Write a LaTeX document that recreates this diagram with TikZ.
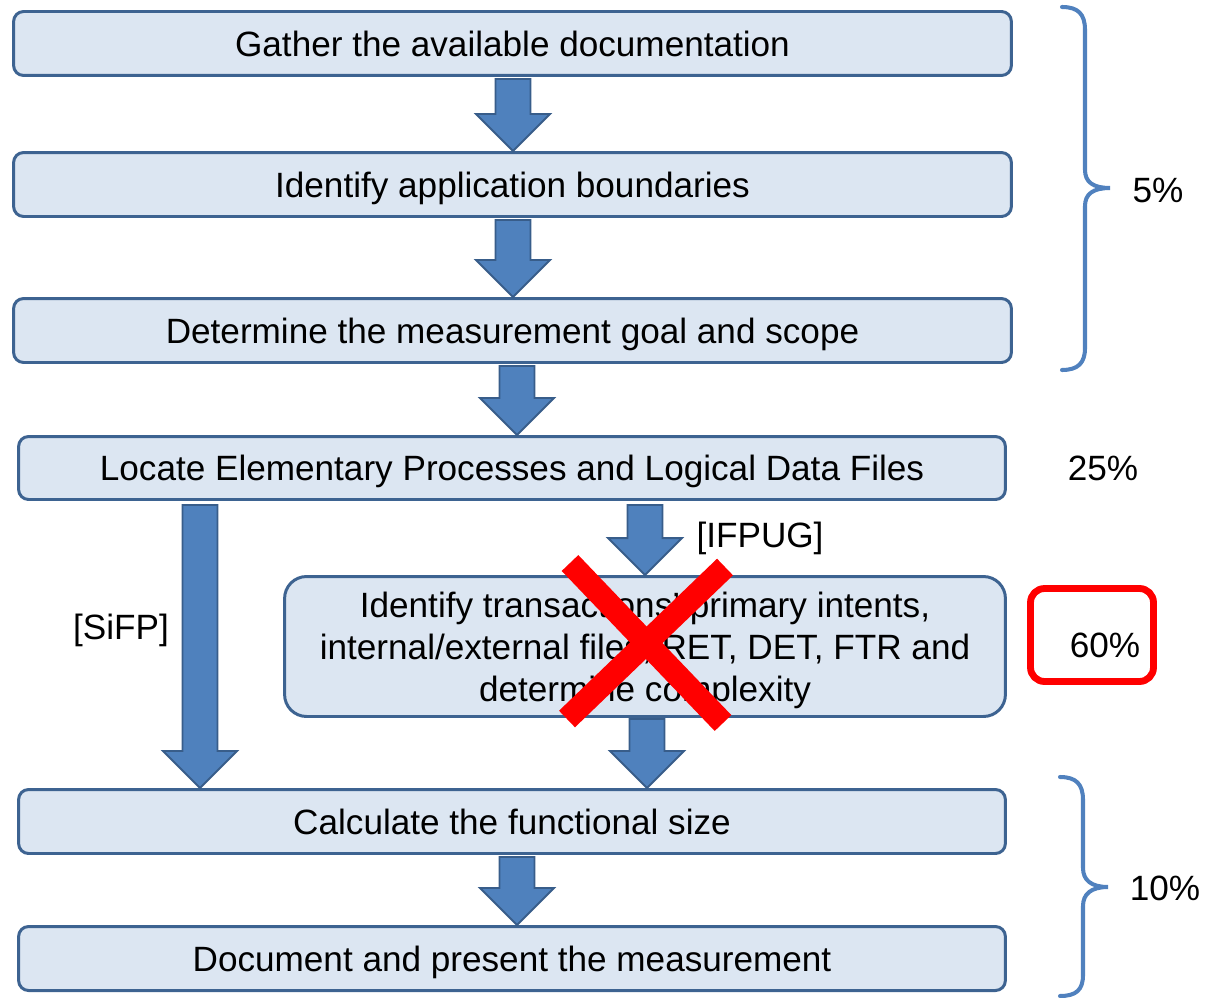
\documentclass[tikz,border=0pt]{standalone}
\usepackage{fontspec}
\setmainfont{Liberation Sans}
\usetikzlibrary{calc}

\definecolor{boxfill}{HTML}{DCE6F2}
\definecolor{boxline}{HTML}{3D6391}
\definecolor{arrowfill}{HTML}{4F81BD}
\definecolor{arrowline}{HTML}{385D8A}
\definecolor{bracecol}{HTML}{5081BE}
\definecolor{markred}{HTML}{FF0000}

\tikzset{
  stepbox/.style={draw=boxline, fill=boxfill, line width=1.7pt,
    rounded corners=0.2cm, inner sep=0pt, align=center,
    font=\fontsize{20pt}{24pt}\selectfont},
  oneline/.style={text height=16pt, text depth=1.7pt},
  plain/.style={inner sep=0pt, font=\fontsize{20pt}{24pt}\selectfont},
  blockarrow/.style={draw=arrowline, fill=arrowfill, line width=1.1pt, line join=miter},
  curly/.style={draw=bracecol, line width=2.3pt, line cap=round},
  cross/.style={draw=markred, line width=0.46cm, line cap=butt},
}

% block arrow from point #1 straight down to point #2
\newcommand\blockarrow[2]{%
  \path[blockarrow] let \p1=(#1), \p2=(#2) in
    (\x1-0.35cm,\y1) -- (\x1+0.35cm,\y1) -- (\x1+0.35cm,\y2+0.74cm)
    -- (\x1+0.74cm,\y2+0.74cm) -- (\x1,\y2) -- (\x1-0.74cm,\y2+0.74cm)
    -- (\x1-0.35cm,\y2+0.74cm) -- cycle;}

\begin{document}
\begin{tikzpicture}[x=0.02cm,y=-0.02cm]
\useasboundingbox (0,0) rectangle (1206,997);

% process steps
\node[stepbox, oneline, minimum width=19.96cm, minimum height=1.28cm] (b1) at (512.5,43.5)
  {Gather the available documentation};
\node[stepbox, oneline, minimum width=19.96cm, minimum height=1.28cm] (b2) at (512.5,184.5)
  {Identify application boundaries};
\node[stepbox, oneline, minimum width=19.96cm, minimum height=1.28cm] (b3) at (512.5,330.5)
  {Determine the measurement goal and scope};
\node[stepbox, oneline, minimum width=19.74cm, minimum height=1.26cm] (b4) at (512,468)
  {Locate Elementary Processes and Logical Data Files};
\node[stepbox, text depth=0pt, rounded corners=0.44cm, minimum width=14.42cm, minimum height=2.8cm] (b5) at (645,646.5)
  {Identify transactions' primary intents,\\internal/external files, RET, DET, FTR and\\determine complexity};
\node[stepbox, oneline, minimum width=19.74cm, minimum height=1.28cm] (b6) at (512,821.5)
  {Calculate the functional size};
\node[stepbox, oneline, minimum width=19.74cm, minimum height=1.28cm] (b7) at (512,958.5)
  {Document and present the measurement};

% x positions of the arrows
\coordinate (xa) at (513,0);
\coordinate (xb) at (517,0);
\coordinate (xs) at (200,0);
\coordinate (xi) at (645,0);
\coordinate (xj) at (647,0);

\blockarrow{$(b1.south -| xa)+(0,2)$}{b2.north -| xa}
\blockarrow{$(b2.south -| xa)+(0,2)$}{b3.north -| xa}
\blockarrow{$(b3.south -| xb)+(0,2)$}{b4.north -| xb}
\blockarrow{$(b4.south -| xs)+(0,4)$}{b6.north -| xs}
\blockarrow{$(b4.south -| xi)+(0,4)$}{b5.north -| xi}
\blockarrow{$(b5.south -| xj)+(0,1)$}{b6.north -| xj}
\blockarrow{$(b6.south -| xb)+(0,2)$}{b7.north -| xb}

% path labels
\node[plain] (ifpug) at (760,538) {[IFPUG]};
\node[plain] (sifp) at (121,630) {[SiFP]};

% effort shares
\path[curly] (1062,7) .. controls (1078,7) and (1085,14) .. (1085,30)
  -- (1085,170) .. controls (1085,182) and (1093,188) .. (1110,188)
  .. controls (1093,188) and (1085,194) .. (1085,206)
  -- (1085,348) .. controls (1085,363) and (1078,370) .. (1062,370);
\node[plain] (p5) at (1158,190) {5\%};
\node[plain] (p25) at (1103,468) {25\%};
\node[draw=markred, line width=3.9pt, rounded corners=0.28cm,
  minimum width=2.46cm, minimum height=1.86cm] (hl) at (1092,635) {};
\node[plain] (p60) at (1105,645) {60\%};
\path[curly] (1060,777) .. controls (1076,777) and (1083,784) .. (1083,800)
  -- (1083,868) .. controls (1083,880) and (1091,887) .. (1108,887)
  .. controls (1091,887) and (1083,894) .. (1083,906)
  -- (1083,975) .. controls (1083,990) and (1076,996) .. (1060,996);
\node[plain] (p10) at (1165,888) {10\%};

% crossed-out step
\path[cross] (570,563) -- (723,723);
\path[cross] (725,567) -- (567,719);
\end{tikzpicture}
\end{document}
